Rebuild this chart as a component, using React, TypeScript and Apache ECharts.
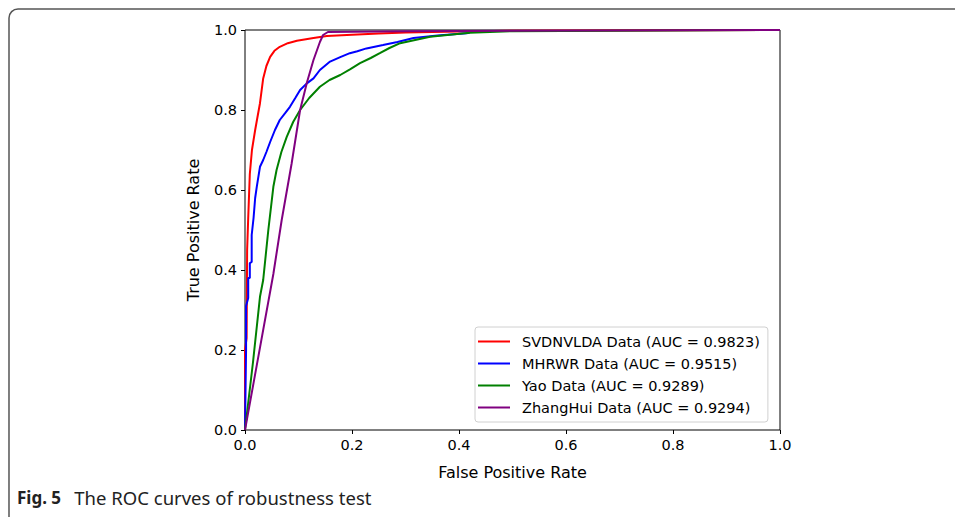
import React, { useEffect, useRef } from "react";
import * as echarts from "echarts";

const seriesNames = [
  "SVDNVLDA Data (AUC = 0.9823)",
  "MHRWR Data (AUC = 0.9515)",
  "Yao Data (AUC = 0.9289)",
  "ZhangHui Data (AUC = 0.9294)",
];
const seriesColors = ["#ff0000", "#0000ff", "#008000", "#800080"];

const redX = [0, 0, 0.003, 0.004, 0.006, 0.009, 0.013, 0.019, 0.023, 0.028, 0.034, 0.04, 0.047, 0.055, 0.065, 0.08, 0.097, 0.128, 0.153, 0.2, 0.25, 0.3, 0.4, 0.5, 1.0];
const redY = [0, 0.2, 0.23, 0.45, 0.53, 0.64, 0.7, 0.75, 0.78, 0.817, 0.879, 0.91, 0.933, 0.948, 0.958, 0.967, 0.973, 0.98, 0.985, 0.988, 0.991, 0.994, 0.996, 0.998, 1.0];

const blueX = [0, 0.002, 0.002, 0.006, 0.006, 0.009, 0.009, 0.0125, 0.0125, 0.016, 0.019, 0.022, 0.028, 0.034, 0.04, 0.047, 0.056, 0.065, 0.075, 0.084, 0.094, 0.103, 0.115, 0.128, 0.14, 0.159, 0.178, 0.196, 0.21, 0.227, 0.258, 0.285, 0.315, 0.36, 0.414, 0.42];
const blueY = [0, 0.2, 0.31, 0.33, 0.38, 0.38, 0.417, 0.42, 0.4875, 0.53, 0.58, 0.608, 0.658, 0.675, 0.695, 0.72, 0.75, 0.775, 0.792, 0.808, 0.83, 0.85, 0.866, 0.879, 0.9, 0.921, 0.932, 0.942, 0.947, 0.954, 0.9625, 0.97, 0.98, 0.986, 0.992, 0.993];

const greenX = [0, 0.015, 0.028, 0.034, 0.0436, 0.053, 0.059, 0.068, 0.078, 0.09, 0.103, 0.12, 0.14, 0.158, 0.178, 0.197, 0.215, 0.235, 0.252, 0.27, 0.29, 0.346, 0.42, 0.5, 1.0];
const greenY = [0, 0.17, 0.333, 0.375, 0.5, 0.608, 0.65, 0.695, 0.733, 0.77, 0.8, 0.83, 0.858, 0.875, 0.8875, 0.902, 0.917, 0.93, 0.942, 0.955, 0.967, 0.983, 0.993, 0.997, 1.0];

const purpleX = [0, 0.053, 0.0686, 0.087, 0.103, 0.116, 0.128, 0.14, 0.146, 0.155, 0.3, 1.0];
const purpleY = [0, 0.39, 0.525, 0.665, 0.8, 0.87, 0.925, 0.97, 0.9875, 0.995, 0.997, 1.0];

const allX = [redX, blueX, greenX, purpleX];
const allY = [redY, blueY, greenY, purpleY];

const xTitle = "False Positive Rate";
const yTitle = "True Positive Rate";
const captionBold = "Fig. 5";
const captionText = "The ROC curves of robustness test";

export default function App() {
  const ref = useRef<HTMLDivElement>(null);
  useEffect(() => {
    if (!ref.current) return;
    const chart = echarts.init(ref.current, undefined, { renderer: "svg" });
    const font = "DejaVu Sans";
    chart.setOption({
      animation: false,
      backgroundColor: "#ffffff",
      grid: {
        left: 245,
        right: 175,
        top: 30,
        bottom: 87,
        show: true,
        borderColor: "#000000",
        borderWidth: 1,
        backgroundColor: "transparent",
      },
      xAxis: {
        type: "value",
        min: 0,
        max: 1,
        interval: 0.2,
        name: xTitle,
        nameLocation: "middle",
        nameGap: 34,
        nameTextStyle: { fontFamily: font, fontSize: 16, color: "#000" },
        axisLine: { show: false },
        axisTick: { show: true, inside: false, length: 4, lineStyle: { color: "#000" } },
        axisLabel: { fontFamily: font, fontSize: 14.5, color: "#000", margin: 7, formatter: (v: number) => v.toFixed(1) },
        splitLine: { show: false },
      },
      yAxis: {
        type: "value",
        min: 0,
        max: 1,
        interval: 0.2,
        name: yTitle,
        nameLocation: "middle",
        nameGap: 44,
        nameRotate: 90,
        nameTextStyle: { fontFamily: font, fontSize: 16, color: "#000" },
        axisLine: { show: false },
        axisTick: { show: true, inside: false, length: 4, lineStyle: { color: "#000" } },
        axisLabel: { fontFamily: font, fontSize: 14.5, color: "#000", margin: 8, formatter: (v: number) => v.toFixed(1) },
        splitLine: { show: false },
      },
      legend: {
        orient: "vertical",
        left: 475,
        top: 327,
        icon: "rect",
        itemWidth: 32,
        itemHeight: 2,
        itemGap: 7,
        padding: [7, 8, 7, 3],
        backgroundColor: "#ffffff",
        borderColor: "#d0d0d0",
        borderWidth: 1,
        borderRadius: 3,
        textStyle: { fontFamily: font, fontSize: 14.5, color: "#000", padding: [0, 0, 0, 7] },
        data: seriesNames,
      },
      series: seriesNames.map((name, i) => ({
        name,
        type: "line",
        symbol: "none",
        showSymbol: false,
        color: seriesColors[i],
        lineStyle: { width: 2, color: seriesColors[i] },
        data: allX[i].map((x, j) => [x, allY[i][j]]),
        z: 2 + i,
      })),
      graphic: [
        {
          type: "rect",
          shape: { x: 9, y: 9, width: 1000, height: 520, r: 9 },
          style: { fill: "none", stroke: "#555555", lineWidth: 1.5 },
          silent: true,
        },
        {
          type: "text",
          x: 17,
          y: 497,
          style: {
            text: `{b|${captionBold}}   {r|${captionText}}`,
            fontFamily: "Noto Sans",
            fontSize: 17,
            fill: "#222",
            verticalAlign: "middle",
            rich: {
              b: { fontFamily: "Noto Sans", fontSize: 17, fontWeight: "bold", fill: "#222" },
              r: { fontFamily: "Noto Sans", fontSize: 18.5, fill: "#222" },
            },
          },
        },
      ],
    });
    return () => chart.dispose();
  }, []);
  return (
    <div style={{ position: "fixed", left: 0, top: 0, width: 955, height: 517, background: "#fff" }}>
      <div ref={ref} style={{ width: 955, height: 517 }} />
    </div>
  );
}
